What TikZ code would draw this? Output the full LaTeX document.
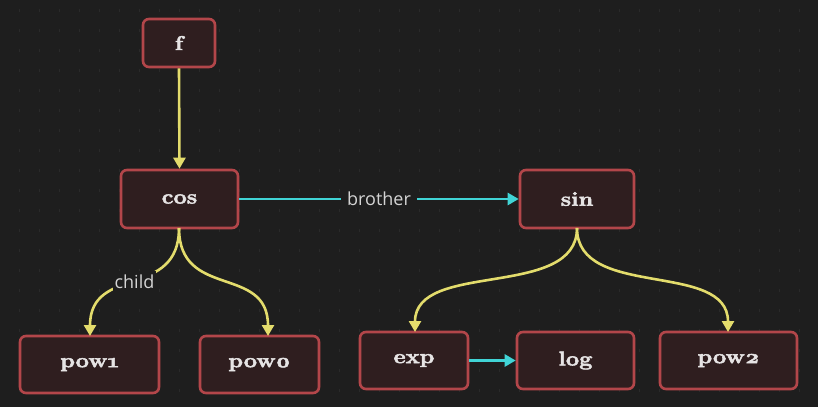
\documentclass[tikz,border=0pt]{standalone}
\usepackage{fontspec}
\newfontfamily\labelfont{Open Sans}
\newfontfamily\nodefont{Latin Modern Roman}[Numbers=OldStyle, BoldFeatures={FakeBold=2.4}]
\usetikzlibrary{arrows.meta}
\definecolor{bg}{HTML}{1E1E1E}
\definecolor{gridc}{HTML}{2A2A2A}
\definecolor{nodefill}{HTML}{2F1E1F}
\definecolor{nodeborder}{HTML}{B3464A}
\definecolor{nodetext}{HTML}{E6E4E4}
\definecolor{yel}{HTML}{E3DC6C}
\definecolor{cya}{HTML}{40D4D6}
\definecolor{lbl}{HTML}{D4D4D4}
\tikzset{
  box/.style={draw=nodeborder, fill=nodefill, line width=2.6pt, rounded corners=6pt,
    inner sep=0pt, text=nodetext,
    font=\nodefont\fontsize{20}{20}\selectfont\bfseries},
  yarrow/.style={draw=yel, line width=2.6pt, -{Triangle[length=11pt,width=12pt]}},
  carrow/.style={draw=cya, line width=2.6pt, -{Triangle[length=11pt,width=12pt]}},
  elabel/.style={fill=bg, text=lbl, inner xsep=6pt, inner ysep=3pt,
    font=\labelfont\fontsize{18}{18}\selectfont}
}
\newcommand{\wtxt}[1]{\raisebox{-2pt}{\scalebox{1.18}[1]{#1}}}
\begin{document}
\begin{tikzpicture}[x=1pt,y=-1pt]
\fill[bg] (0,0) rectangle (818,407);
\useasboundingbox (0,0) rectangle (818,407);
% faint grid ticks
\foreach \gx in {19,39,...,818}{
  \foreach \gy in {10,30,...,407}{
    \draw[gridc, line width=0.8pt] (\gx,\gy-1.5) -- (\gx,\gy+1.5);
  }
}
% nodes
\node[box, minimum width=72pt, minimum height=48pt] (f) at (179,43) {\wtxt{f}};
\node[box, minimum width=117pt, minimum height=58pt] (cos) at (179.5,199) {\wtxt{cos}};
\node[box, minimum width=114pt, minimum height=58pt] (sin) at (577,199) {\wtxt{sin}};
\node[box, minimum width=139pt, minimum height=57pt] (pow1) at (89.5,364.5) {\wtxt{pow1}};
\node[box, minimum width=119pt, minimum height=57pt] (pow0) at (259.5,364.5) {\wtxt{pow0}};
\node[box, minimum width=108pt, minimum height=57pt] (exp) at (414,360.5) {\wtxt{exp}};
\node[box, minimum width=117pt, minimum height=57pt] (log) at (575.5,360.5) {\wtxt{log}};
\node[box, minimum width=137pt, minimum height=57pt] (pow2) at (728.5,360.5) {\wtxt{pow2}};
% anchors for edges
\coordinate (cosb) at (179,228);
\coordinate (sinb) at (577,228);
\coordinate (pow1t) at (90,336);
\coordinate (pow0t) at (268,336);
\coordinate (expt) at (415,332);
\coordinate (pow2t) at (728,332);
% edges
\draw[yarrow] (f.south) -- (cos.north);
\draw[carrow] (cos.east) -- node[elabel] {brother} (sin.west);
\draw[yarrow] (cosb) .. controls (179,300) and (90,264) .. node[elabel, inner xsep=2pt, inner ysep=4pt] {child} (pow1t);
\draw[yarrow] (cosb) .. controls (179,300) and (268,264) .. (pow0t);
\draw[yarrow] (sinb) .. controls (577,300) and (415,260) .. (expt);
\draw[yarrow] (sinb) .. controls (577,300) and (728,260) .. (pow2t);
\draw[carrow] (exp.east) -- (log.west);
\end{tikzpicture}
\end{document}
